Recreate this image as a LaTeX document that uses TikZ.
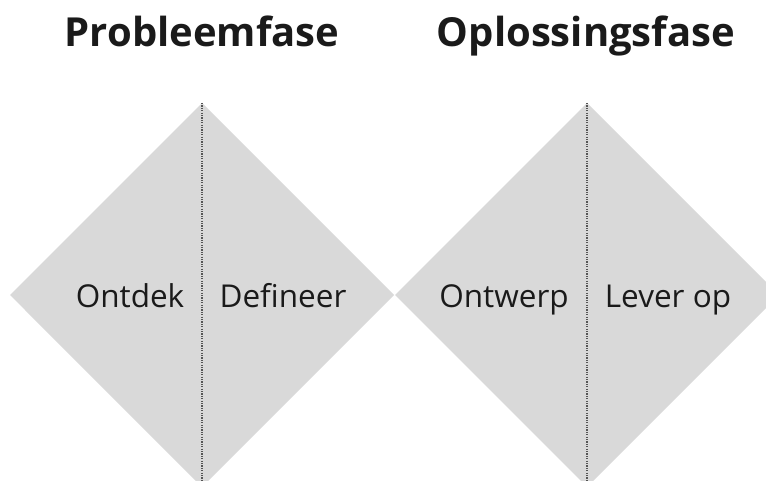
\documentclass[tikz,border=0pt]{standalone}
\usepackage{fontspec}
\setmainfont{Open Sans}
\definecolor{phasefill}{HTML}{D9D9D9}
\definecolor{ink}{HTML}{1A1A1A}
\definecolor{splitline}{HTML}{555555}
\begin{document}
\begin{tikzpicture}[x=1pt,y=-1pt,
  phase/.style={fill=phasefill,draw=none},
  divider/.style={draw=splitline,line width=1.4pt,dash pattern=on 1.2pt off 1.2pt},
  heading/.style={font=\bfseries\fontsize{40}{40}\selectfont,text=ink,anchor=base,inner sep=0pt},
  step label/.style={font=\fontsize{31.5}{31.5}\selectfont,text=ink,anchor=base,inner sep=0pt}]
  \useasboundingbox (0,0) rectangle (766,481);
  \clip (0,0) rectangle (766,481);
  % the two diamonds
  \path[phase] (202,103) -- (394,295) -- (202,487) -- (10,295) -- cycle;
  \path[phase] (587,103) -- (779,295) -- (587,487) -- (395,295) -- cycle;
  % dotted dividers through the middle of each diamond
  \coordinate (d1top) at (202,103);
  \coordinate (d1bot) at (202,481);
  \coordinate (d2top) at (587,103);
  \coordinate (d2bot) at (587,481);
  \draw[divider] (d1top) -- (d1bot);
  \draw[divider] (d2top) -- (d2bot);
  % headings
  \node[heading] (probleem) at (202,47) {Probleemfase};
  \node[heading] (oplossing) at (586,47) {Oplossingsfase};
  % step labels
  \node[step label] (ontdek) at (130,307) {Ontdek};
  \node[step label] (defineer) at (283,307) {Defineer};
  \node[step label] (ontwerp) at (504,307) {Ontwerp};
  \node[step label] (leverop) at (668,307) {Lever op};
\end{tikzpicture}
\end{document}
